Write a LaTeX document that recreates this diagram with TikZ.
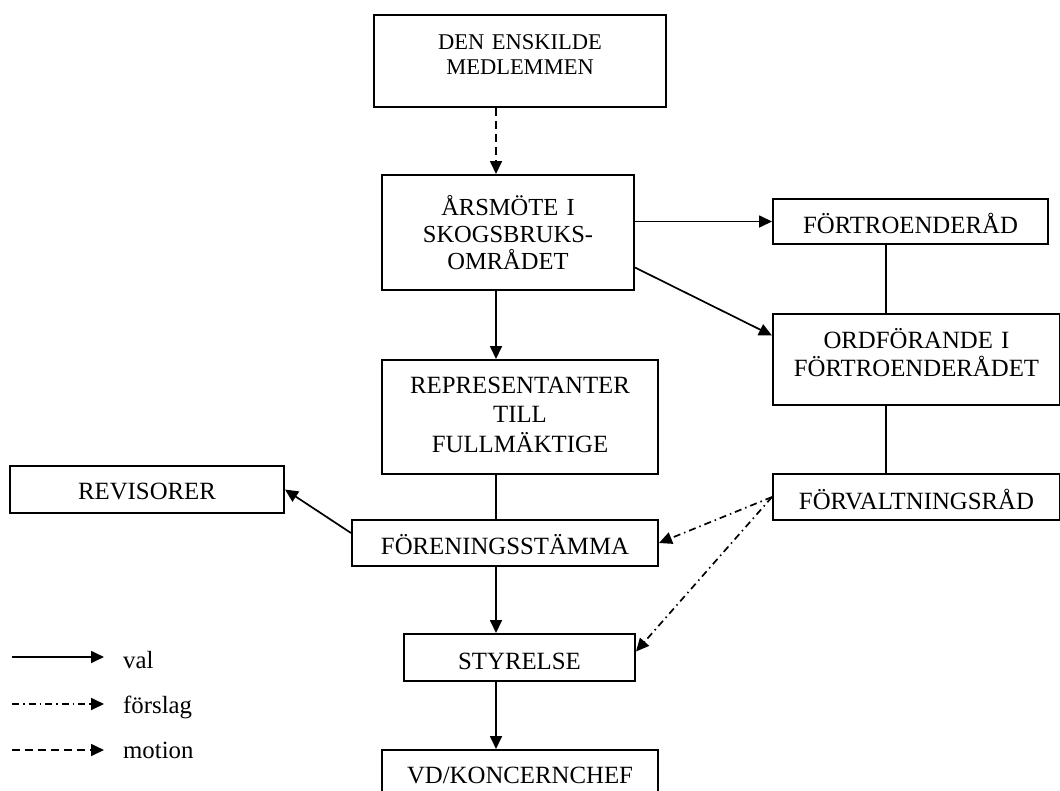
\documentclass[tikz,border=0pt]{standalone}
\usepackage{fontspec}
\setmainfont{Liberation Serif}
\usetikzlibrary{arrows.meta,positioning}

\begin{document}
\begin{tikzpicture}[
    x=1pt, y=-1pt,
    box/.style={rectangle, draw, line width=2pt, inner sep=0pt, anchor=north west, align=center, text height=34pt, font=\fontsize{24.8}{28.5}\selectfont},
    val/.style={line width=1.7pt, -{Triangle[length=13pt,width=12pt]}},
    forslag/.style={val, dash pattern=on 7pt off 4pt on 1.5pt off 4pt},
    motion/.style={val, dash pattern=on 8pt off 5pt},
    link/.style={line width=1.7pt},
    legtext/.style={inner sep=0pt, anchor=base west, font=\fontsize{24.8}{28.5}\selectfont}
]
\useasboundingbox (0,0) rectangle (1060,790);
\clip (0,0) rectangle (1060,790);

% Main column
\node[box, text width=292pt, text depth=58pt, font=\fontsize{22.5}{25}\selectfont] (medlem) at (373,14) {DEN ENSKILDE\\MEDLEMMEN};
\node[box, text width=252pt, text height=40pt, text depth=75pt, font=\fontsize{24.5}{27}\selectfont] (arsmote) at (381,174) {ÅRSMÖTE I\\SKOGSBRUKS-\\OMRÅDET};
\node[box, text width=276pt, text height=33pt, text depth=81pt, font=\fontsize{24.8}{29.5}\selectfont] (repr) at (381,359) {REPRESENTANTER\\TILL\\FULLMÄKTIGE};
\node[box, text width=306pt, text depth=12pt] (forening) at (351,519) {FÖRENINGSSTÄMMA};
\node[box, text width=231pt, text height=35pt, text depth=12pt] (styr) at (403,633) {STYRELSE};
\node[box, text width=276pt, text height=33pt, text depth=20pt] (vd) at (381,749) {VD/KONCERNCHEF};
\node[box, text width=274pt, text height=33pt, text depth=14pt] (revis) at (9,465) {REVISORER};

% Right column
\node[box, text width=275pt, text depth=11pt] (fortro) at (772,198) {FÖRTROENDERÅD};
\node[box, text width=287pt, text depth=57pt] (ordf) at (772,313) {ORDFÖRANDE I\\FÖRTROENDERÅDET};
\node[box, text width=287pt, text height=35pt, text depth=11pt] (forvalt) at (772,473) {FÖRVALTNINGSRÅD};

\coordinate (spine) at (496,0);
\coordinate (rspine) at (886,0);

% Main flow
\draw[motion] (medlem.south -| spine) -- (arsmote.north -| spine);
\draw[val] (arsmote.south -| spine) -- (repr.north -| spine);
\draw[link] (repr.south -| spine) -- (forening.north -| spine);
\draw[val] (forening.south -| spine) -- (styr.north -| spine);
\draw[val] (styr.south -| spine) -- (vd.north -| spine);
\draw[val] ([yshift=10pt]forening.west) -- (revis.east);

% Right side
\draw[val] (arsmote.east |- fortro.west) -- (fortro.west);
\draw[val] ([yshift=-35pt]arsmote.east) -- ([yshift=24pt]ordf.west);
\draw[link] (fortro.south -| rspine) -- (ordf.north -| rspine);
\draw[link] (ordf.south -| rspine) -- (forvalt.north -| rspine);
\draw[forslag] (forvalt.west) -- (forening.east);
\draw[forslag] (forvalt.west) -- ([yshift=6pt]styr.east);

% Legend
\node[legtext] (valtxt) at (123,668) {val};
\node[legtext] (forslagtxt) at (123,713) {förslag};
\node[legtext] (motiontxt) at (123,758) {motion};
\coordinate (valstart) at (12,657);
\coordinate (forslagstart) at (12,704);
\coordinate (motionstart) at (12,750);
\draw[val, shorten >=19pt] (valstart) -- (valstart -| valtxt.west);
\draw[forslag, shorten >=19pt] (forslagstart) -- (forslagstart -| forslagtxt.west);
\draw[motion, shorten >=19pt] (motionstart) -- (motionstart -| motiontxt.west);

\end{tikzpicture}
\end{document}
